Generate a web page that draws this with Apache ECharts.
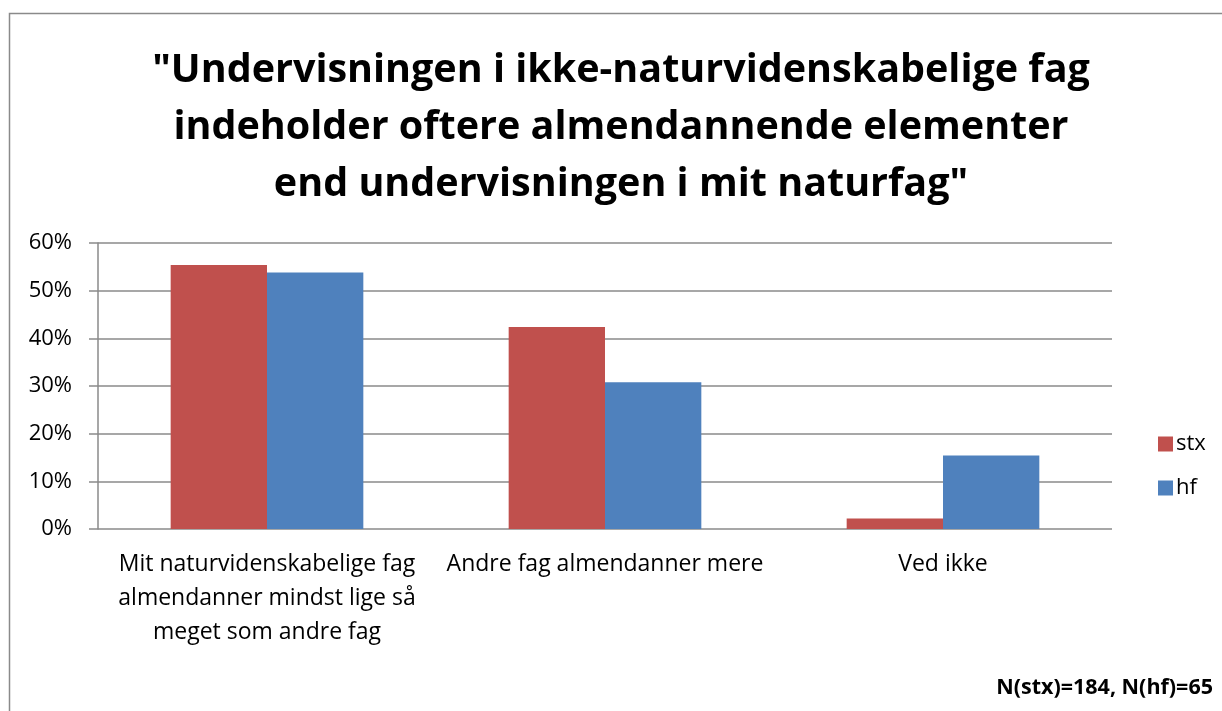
<!DOCTYPE html>
<html><head><meta charset="utf-8">
<script src="https://cdn.jsdelivr.net/npm/echarts@6/dist/echarts.min.js"></script>
<style>html,body{margin:0;padding:0;background:#fff}#c{width:1222px;height:711px}</style>
</head><body><div id="c"></div>
<script>
const categories = ["Mit naturvidenskabelige fag\nalmendanner mindst lige så\nmeget som andre fag", "Andre fag almendanner mere", "Ved ikke"];
const stx = [55.4, 42.4, 2.2];
const hf = [53.8, 30.8, 15.4];
const yTicks = [0, 10, 20, 30, 40, 50, 60];
const titleText = '"Undervisningen i ikke-naturvidenskabelige fag\nindeholder oftere almendannende elementer\nend undervisningen i mit naturfag"';
const noteText = 'N(stx)=184, N(hf)=65';

const chart = echarts.init(document.getElementById('c'), null, {renderer: 'canvas'});
const font = '"Open Sans", sans-serif';
chart.setOption({
  animation: false,
  backgroundColor: '#fff',
  graphic: [
    {type: 'rect', shape: {x: 9.5, y: 13.5, width: 1400, height: 900}, style: {fill: 'none', stroke: '#8a8a8a', lineWidth: 1.5}, silent: true},
    {type: 'text', x: 621, y: 42, style: {text: titleText, align: 'center', verticalAlign: 'top', font: 'bold 39.5px ' + font, lineHeight: 57, fill: '#000'}},
    {type: 'text', right: 9, top: 677, style: {text: noteText, font: 'bold 21.5px ' + font, fill: '#000'}}
  ],
  legend: {
    orient: 'vertical',
    left: 1153,
    top: 428,
    itemWidth: 15, itemHeight: 15, itemGap: 22,
    icon: 'rect',
    textStyle: {fontFamily: font, fontSize: 22, color: '#000', padding: [0,0,0,-2]},
    data: ['stx', 'hf']
  },
  grid: {left: 98, right: 110, top: 243, bottom: 182, containLabel: false},
  xAxis: {
    type: 'category',
    data: categories,
    axisLine: {show: false},
    axisTick: {show: false},
    axisLabel: {fontFamily: font, fontSize: 23, color: '#000', lineHeight: 34, margin: 18, interval: 0}
  },
  yAxis: {
    type: 'value',
    min: 0, max: 60, interval: 10,
    axisLine: {show: true, lineStyle: {color: '#8a8a8a', width: 1.5}},
    axisTick: {show: true, length: 9, lineStyle: {color: '#8a8a8a', width: 1.5}},
    splitLine: {lineStyle: {color: '#8a8a8a', width: 1.5}},
    axisLabel: {fontFamily: font, fontSize: 22, color: '#000', margin: 26, formatter: v => yTicks.includes(v) ? v + '%' : ''}
  },
  series: [
    {name: 'stx', type: 'bar', data: stx, barGap: '0%', barCategoryGap: '43%', itemStyle: {color: '#C0504D'}},
    {name: 'hf', type: 'bar', data: hf, barGap: '0%', barCategoryGap: '43%', itemStyle: {color: '#4F81BD'}}
  ]
});
</script></body></html>
